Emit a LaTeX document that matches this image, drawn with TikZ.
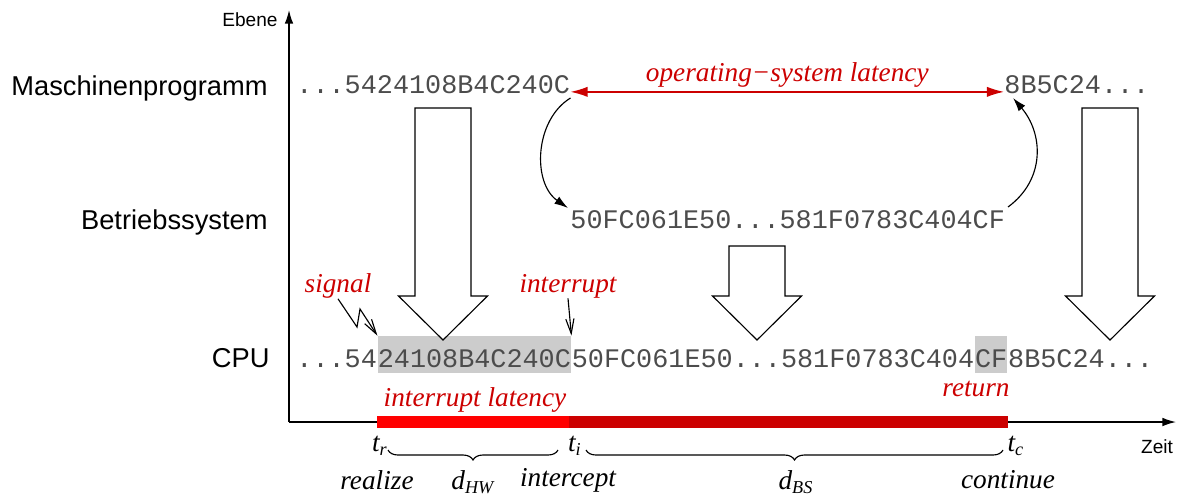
\documentclass[tikz,border=0pt]{standalone}
\usepackage{fontspec}
\setmainfont{Liberation Serif}
\setsansfont{Liberation Sans}
\setmonofont{Liberation Mono}
\usetikzlibrary{arrows.meta,decorations.pathreplacing}
\definecolor{osred}{RGB}{204,0,0}
\definecolor{hwred}{RGB}{255,0,0}
\definecolor{hilite}{RGB}{204,204,204}
\tikzset{
  level/.style={font=\sffamily\fontsize{12}{14}\selectfont, inner sep=0pt, anchor=base east},
  axislbl/.style={font=\sffamily\fontsize{8.4}{10}\selectfont, inner sep=0pt},
  code/.style={font=\ttfamily\fontsize{11.8}{14}\selectfont, text=black!70, inner sep=0pt,
    text height=13.6pt, text depth=2.7pt, anchor=base west},
  hl/.style={code, fill=hilite},
  note/.style={font=\itshape\fontsize{12}{14}\selectfont, text=osred, inner sep=0pt},
  tlbl/.style={font=\itshape\fontsize{12}{14}\selectfont, inner sep=0pt},
  hollow/.style={draw, line width=0.5pt, fill=white},
  pointer/.style={line width=0.5pt},
  barb/.style={-{Straight Barb[length=6.5pt,width=3.6pt]}},
  tip/.style={-{Latex[length=6pt,width=3.8pt]}},
}
\begin{document}
\begin{tikzpicture}[x=0.44pt,y=-0.44pt]
  \useasboundingbox (0,0) rectangle (1186,494);
  % axes
  \coordinate (origin) at (289,422);
  \coordinate (ytop) at (289,10);
  \coordinate (xend) at (1176,422);
  \draw[line width=0.6pt, tip] (origin) -- (ytop);
  \draw[line width=0.6pt, tip] (origin) -- (xend);
  \node[axislbl, anchor=east] (ebene) at (278,20) {Ebene};
  \node[axislbl] (zeit) at (1157,447) {Zeit};

  % levels
  \node[level] (lmp) at (268,95) {Maschinenprogramm};
  \node[level] (lbs) at (268,229) {Betriebssystem};
  \node[level] (lcpu) at (270,367) {CPU};

  % code on each level
  \node[code] (mp1) at (296,93) {...5424108B4C240C};
  \node[code] (mp2) at (1004,93) {8B5C24...};
  \node[code] (bs) at (570,228) {50FC061E50...581F0783C404CF};
  \node[code] (c1) at (296,367) {...54};
  \node[hl] (c2) at (c1.base east) {24108B4C240C};
  \node[code] (c3) at (c2.base east) {50FC061E50...581F0783C404};
  \node[hl] (c4) at (c3.base east) {CF};
  \node[code] (c5) at (c4.base east) {8B5C24...};

  % hollow arrows down to the CPU
  \foreach \cx/\ay in {443/108, 757/246, 1110/108}
    \draw[hollow] (\cx-28,\ay) -- (\cx+28,\ay) -- (\cx+28,296) -- (\cx+44.5,296)
      -- (\cx,340) -- (\cx-44.5,296) -- (\cx-28,296) -- cycle;

  % operating-system latency
  \draw[osred, line width=0.6pt, {Latex[length=7.5pt,width=4.5pt]}-{Latex[length=7.5pt,width=4.5pt]}]
    ([yshift=0.5pt]mp1.base east) -- ([yshift=0.5pt]mp2.base west)
    node[note, midway, above=1.8pt] (oslat) {operating−system latency};

  % calls into and out of the OS
  \coordinate (osin) at (568,208);
  \coordinate (osout) at (1008,207);
  \coordinate (mpin) at (1013,98);
  \draw[pointer, tip] ([yshift=-2.2pt]mp1.base east) .. controls +(-36,22) and +(-36,-25) .. (osin);
  \draw[pointer, tip] (osout) .. controls +(38,-28) and +(30,35) .. (mpin);

  % signal and interrupt
  \node[note] (sig) at (338,286) {signal};
  \node[note] (irq) at (568,286) {interrupt};
  \draw[pointer, barb] (sig.south) -- (357,327) -- (360,309) -- (c2.north west);
  \draw[pointer, barb] (irq.south) -- (c2.north east);

  % latency bar
  \coordinate (tr) at (377,422);
  \coordinate (ti) at (569,422);
  \coordinate (tc) at (1008,422);
  \draw[hwred, line width=5.3pt] (tr) -- (ti);
  \draw[osred, line width=5.3pt] (ti) -- (tc);
  \node[note] (irqlat) at (475,400) {interrupt latency};
  \node[note] (ret) at (976,389) {return};

  % points in time
  \node[tlbl] (ltr) at (380,446) {t\textsubscript{r}};
  \node[tlbl] (lti) at (575,446) {t\textsubscript{i}};
  \node[tlbl] (ltc) at (1016,446) {t\textsubscript{c}};
  \draw[pointer, decorate, decoration={brace, mirror, amplitude=4.4pt}] (388,450) -- (558,450);
  \draw[pointer, decorate, decoration={brace, mirror, amplitude=4.4pt}] (586,450) -- (1003,450);
  \node[tlbl] (realize) at (377,480) {realize};
  \node[tlbl] (dhw) at (473,482) {d\textsubscript{HW}};
  \node[tlbl] (intercept) at (568,480) {intercept};
  \node[tlbl] (dbs) at (796,482) {d\textsubscript{BS}};
  \node[tlbl] (continue) at (1008,480) {continue};
\end{tikzpicture}
\end{document}
